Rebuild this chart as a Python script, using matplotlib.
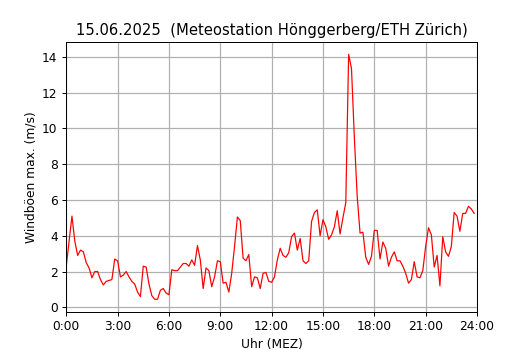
import numpy as np
import matplotlib
matplotlib.use('Agg')
import matplotlib.pyplot as plt

# Windböen max. (m/s), alle 10 Minuten ab 0:00
boeen = [2.3, 3.7, 5.1, 3.7, 2.9, 3.2, 3.1, 2.5, 2.2, 1.65, 2.0, 2.0,
         1.55, 1.25, 1.45, 1.5, 1.55, 2.7, 2.6, 1.7, 1.8, 2.0, 1.7, 1.45,
         1.3, 0.85, 0.6, 2.3, 2.25, 1.3, 0.65, 0.45, 0.45, 0.95, 1.05, 0.8,
         0.7, 2.1, 2.05, 2.05, 2.25, 2.45, 2.45, 2.3, 2.65, 2.35, 3.45, 2.65,
         1.05, 2.2, 2.05, 1.15, 1.7, 2.6, 2.55, 1.35, 1.4, 0.85, 1.9, 3.4,
         5.05, 4.85, 2.75, 2.6, 2.95, 1.15, 1.7, 1.65, 1.05, 1.9, 1.95, 1.45,
         1.4, 1.7, 2.65, 3.3, 2.9, 2.8, 3.05, 3.95, 4.15, 3.2, 3.85, 2.6,
         2.45, 2.6, 4.8, 5.3, 5.45, 4.0, 4.9, 4.5, 3.8, 4.05, 4.5, 5.4,
         4.1, 5.0, 5.85, 14.15, 13.35, 9.5, 6.2, 4.15, 4.2, 2.8, 2.4, 2.85,
         4.3, 4.3, 2.7, 3.65, 3.3, 2.3, 2.8, 3.1, 2.6, 2.6, 2.3, 1.9,
         1.35, 1.55, 2.55, 1.7, 1.65, 2.05, 3.4, 4.45, 4.05, 2.25, 2.9, 1.2,
         3.95, 3.1, 2.85, 3.4, 5.3, 5.1, 4.25, 5.25, 5.25, 5.65, 5.5, 5.25]
stunden = np.arange(len(boeen)) / 6.0

tick_pos = list(range(0, 25, 3))
tick_labels = ['0:00', '3:00', '6:00', '9:00', '12:00', '15:00', '18:00', '21:00', '24:00']

# 6x3.96 Zoll bei ~88 dpi ergibt 530x350 Pixel
fig, ax = plt.subplots(figsize=(6, 350 / 88.333), dpi=88.333)
ax.plot(stunden, boeen, color='red', linewidth=1)
ax.set_xlim(0, 24)
ax.set_xticks(tick_pos)
ax.set_xticklabels(tick_labels)
ax.set_yticks(range(0, 15, 2))
ax.grid(True, color='#b0b0b0', linewidth=1)
ax.set_axisbelow(True)
ax.set_xlabel('Uhr (MEZ)')
ax.set_ylabel('Windböen max. (m/s)')
ax.set_title('15.06.2025  (Meteostation Hönggerberg/ETH Zürich)')

fig.savefig('out.png', dpi=88.333)
